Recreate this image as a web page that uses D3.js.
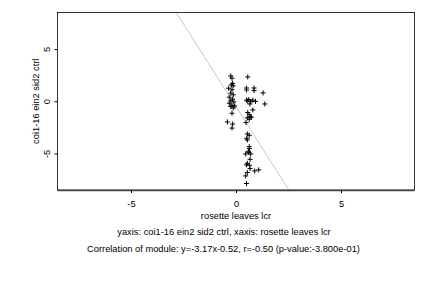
<!DOCTYPE html>
<html><head><meta charset="utf-8">
<script src="https://cdn.jsdelivr.net/npm/d3@7"></script>
<style>body{margin:0;background:#fff}svg{display:block}text{font-family:"Liberation Sans",Arial,sans-serif;fill:#000}</style>
</head><body>
<script>
const xVals = [-0.25,-0.19,-0.16,-0.22,-0.13,-0.35,-0.19,-0.25,-0.13,-0.32,-0.16,-0.25,-0.10,-0.32,-0.19,-0.25,-0.13,-0.06,-0.19,-0.41,-0.16,-0.19,
  0.56,0.50,0.50,0.86,0.86,1.29,0.50,0.56,0.61,0.70,0.80,0.93,0.66,1.37,0.80,0.56,0.63,0.67,0.54,0.73,0.63,0.48,
  0.54,0.63,0.51,0.54,0.63,0.64,0.59,0.46,0.70,0.61,0.67,0.54,0.50,0.64,0.67,0.89,1.08,0.54,0.46,0.50];
const yVals = [2.42,2.20,1.72,1.56,1.47,1.25,1.10,0.78,0.62,0.39,0.20,0.04,-0.06,-0.19,-0.38,-0.51,-0.64,-0.45,-1.15,-1.98,-2.18,-2.57,
  2.33,1.27,1.08,1.27,1.02,0.80,0.11,0.02,0.17,-0.03,0.11,-0.01,-0.26,-0.26,-0.83,-1.08,-1.27,-1.46,-1.59,-1.53,-1.72,-2.04,
  -3.13,-3.26,-3.55,-3.71,-4.35,-4.54,-4.79,-5.05,-5.05,-4.92,-5.56,-5.94,-6.10,-6.13,-6.45,-6.67,-6.57,-6.83,-7.15,-7.88];
const xTicks = [-5, 0, 5];
const yTicks = [-5, 0, 5];
const slope = -3.17, intercept = -0.52;
const xLabel = "rosette leaves lcr";
const yLabel = "coi1-16 ein2 sid2 ctrl";
const title1 = "yaxis: coi1-16 ein2 sid2 ctrl, xaxis: rosette leaves lcr";
const title2 = "Correlation of module: y=-3.17x-0.52, r=-0.50 (p-value:-3.800e-01)";

const W = 432, H = 288, FS = 9.3;
const L = 57.5, R = 414.5, T = 12.5, B = 190;
const svg = d3.select("body").append("svg").attr("width", W).attr("height", H);
const x = d3.scaleLinear().domain([-8.5, 8.5]).range([L, R]);
const y = d3.scaleLinear().domain([-8.5, 8.5]).range([B, T]);

svg.append("clipPath").attr("id","c").append("rect").attr("x",L).attr("y",T).attr("width",R-L).attr("height",B-T);
const x0 = (8.5 - intercept) / slope, x1 = (-8.5 - intercept) / slope;
svg.append("line").attr("clip-path","url(#c)")
  .attr("x1", x(x0)).attr("y1", y(slope*x0+intercept))
  .attr("x2", x(x1)).attr("y2", y(slope*x1+intercept))
  .attr("stroke", "#c8c8c8").attr("stroke-width", 1);

svg.append("rect").attr("x", L).attr("y", T).attr("width", R-L).attr("height", B-T)
  .attr("fill","none").attr("stroke","#000").attr("stroke-width",0.8);

const pts = xVals.map((v,i)=>[v,yVals[i]]);
svg.append("g").selectAll("path").data(pts).join("path")
  .attr("transform", d=>`translate(${x(d[0])},${y(d[1])})`)
  .attr("d", "M-2.5,0H2.5M0,-2.5V2.5")
  .attr("stroke","#000").attr("stroke-width",1).attr("fill","none");

const xa = svg.append("g").attr("transform",`translate(0,${B})`)
  .call(d3.axisBottom(x).tickValues(xTicks).tickSize(3).tickPadding(7).tickFormat(d3.format("d")));
xa.select(".domain").attr("d", `M${L},0.5H${R}`).attr("stroke","#444").attr("stroke-width",1.5);
xa.selectAll("text").attr("font-size", FS).text(d=>d<0?"-"+Math.abs(d):d);

const ya = svg.append("g").attr("transform",`translate(${L},0)`)
  .call(d3.axisLeft(y).tickValues(yTicks).tickSize(3).tickPadding(0).tickFormat(d3.format("d")));
ya.select(".domain").remove();
ya.selectAll(".tick text").attr("font-size", FS).attr("text-anchor","middle")
  .attr("x", 0).attr("dy", 0).attr("transform","translate(-7.5,0) rotate(-90)")
  .text(d=>d<0?"-"+Math.abs(d):d);

svg.append("text").attr("x", (L+R)/2).attr("y", 219).attr("text-anchor","middle").attr("font-size", FS).text(xLabel);
svg.append("text").attr("transform",`translate(38.5,${(T+B)/2}) rotate(-90)`).attr("text-anchor","middle").attr("font-size", FS).text(yLabel);
svg.append("text").attr("x", (L+R)/2 - 12).attr("y", 235).attr("text-anchor","middle").attr("font-size", FS).text(title1);
svg.append("text").attr("x", (L+R)/2 - 12.5).attr("y", 252).attr("text-anchor","middle").attr("font-size", FS).text(title2);
</script>
</body></html>
